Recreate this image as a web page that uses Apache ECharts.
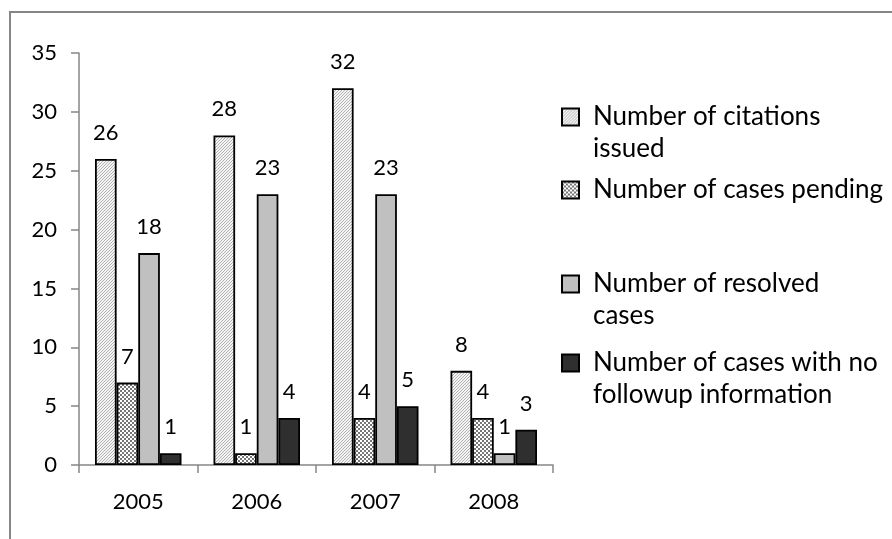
<!DOCTYPE html>
<html>
<head>
<meta charset="utf-8">
<script src="https://cdn.jsdelivr.net/npm/echarts@6/dist/echarts.min.js"></script>
<style>
html,body{margin:0;padding:0;background:#fff;}
#chart{width:892px;height:539px;}
</style>
</head>
<body>
<div id="chart"></div>
<script>
const years = ['2005', '2006', '2007', '2008'];
const citationsIssued = [26, 28, 32, 8];
const casesPending = [7, 1, 4, 4];
const resolvedCases = [18, 23, 23, 1];
const noFollowup = [1, 4, 5, 3];
const yTicks = [0, 5, 10, 15, 20, 25, 30, 35];

const seriesNames = [
  'Number of citations issued',
  'Number of cases pending',
  'Number of resolved cases',
  'Number of cases with no followup information'
];
const legendLabels = {
  'Number of citations issued': '\nNumber of citations\nissued',
  'Number of cases pending': 'Number of cases pending',
  'Number of resolved cases': '\nNumber of resolved\ncases',
  'Number of cases with no followup information': '\nNumber of cases with no\nfollowup information'
};

function makePattern(draw, size) {
  const c = document.createElement('canvas');
  c.width = size; c.height = size;
  const ctx = c.getContext('2d');
  draw(ctx, size);
  return { image: c, repeat: 'repeat' };
}
const stripePattern = makePattern(function (ctx, s) {
  ctx.fillStyle = '#f4f4f4';
  ctx.fillRect(0, 0, s, s);
  ctx.fillStyle = '#b2b2b2';
  for (let i = 0; i < s; i++) ctx.fillRect((s - 1 - i), i, 1, 1);
}, 3);
const checkPattern = makePattern(function (ctx, s) {
  ctx.fillStyle = '#767676';
  ctx.fillRect(0, 0, s, s);
  ctx.fillStyle = '#ffffff';
  ctx.fillRect(0, 0, 2, 2);
  ctx.fillRect(2, 2, 2, 2);
}, 4);

const font = 'Lato, "Noto Sans", sans-serif';
const fills = [stripePattern, checkPattern, '#c0c0c0', '#2f2f2f'];
const values = [citationsIssued, casesPending, resolvedCases, noFollowup];
const legendTops = [69, 174, 236, 315];

const chart = echarts.init(document.getElementById('chart'), null, { renderer: 'canvas' });

const series = seriesNames.map(function (name, i) {
  return {
    name: name,
    type: 'bar',
    data: values[i],
    barGap: '0%',
    barCategoryGap: '27%',
    itemStyle: { color: fills[i], borderColor: '#000', borderWidth: 1.8 },
    label: {
      show: true,
      position: 'top',
      distance: 15,
      color: '#000',
      fontSize: 22,
      fontFamily: font
    },
    emphasis: { disabled: true },
    animation: false
  };
});

const legends = seriesNames.map(function (name, i) {
  return {
    data: [name],
    left: 561,
    top: legendTops[i],
    orient: 'vertical',
    padding: 0,
    icon: 'rect',
    itemWidth: 17,
    itemHeight: 17,
    selectedMode: false,
    formatter: function (n) { return legendLabels[n]; },
    textStyle: {
      fontSize: 26,
      fontFamily: font,
      color: '#000',
      lineHeight: 32,
      padding: [0, 0, 0, 9]
    }
  };
});

chart.setOption({
  backgroundColor: '#fff',
  animation: false,
  grid: { left: 79, right: 339, top: 53, bottom: 74, containLabel: false },
  xAxis: {
    type: 'category',
    data: years,
    axisLine: { lineStyle: { color: '#868686', width: 1.5 } },
    axisTick: { show: true, length: 8, lineStyle: { color: '#868686', width: 1.5 } },
    axisLabel: { color: '#000', fontSize: 22, fontFamily: font, margin: 26 }
  },
  yAxis: {
    type: 'value',
    min: yTicks[0],
    max: yTicks[yTicks.length - 1],
    interval: yTicks[1] - yTicks[0],
    splitLine: { show: false },
    axisLine: { show: true, lineStyle: { color: '#868686', width: 1.5 } },
    axisTick: { show: true, length: 8, lineStyle: { color: '#868686', width: 1.5 } },
    axisLabel: { color: '#000', fontSize: 22, fontFamily: font, margin: 22 }
  },
  legend: legends,
  graphic: [{
    type: 'rect',
    shape: { x: 10, y: 12, width: 900, height: 560 },
    style: { fill: 'none', stroke: '#868686', lineWidth: 2 },
    silent: true
  }],
  series: series
});
</script>
</body>
</html>
